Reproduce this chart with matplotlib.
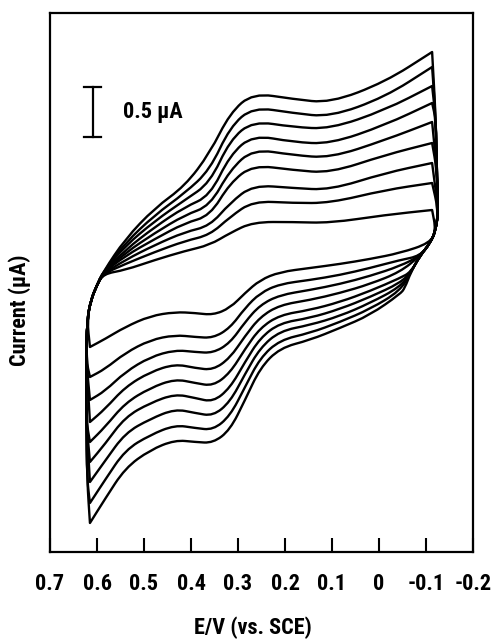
import matplotlib
matplotlib.use("Agg")
import matplotlib.pyplot as plt
import numpy as np
from matplotlib.path import Path
from matplotlib.patches import PathPatch
from matplotlib import font_manager

# ---------------- data (E in V vs SCE, current in uA) ----------------
tick_values = [0.7, 0.6, 0.5, 0.4, 0.3, 0.2, 0.1, 0.0, -0.1, -0.2]
tick_labels = ["0.7", "0.6", "0.5", "0.4", "0.3", "0.2", "0.1", "0", "-0.1", "-0.2"]

# forward (upper) branch, scanned from +0.6 V to -0.11 V
top_E = [0.587, 0.540, 0.477, 0.413, 0.360, 0.317, 0.268, 0.183, 0.104, -0.013, -0.113]
top_current = [
    [0.08, 0.12, 0.22, 0.31, 0.37, 0.49, 0.60, 0.60, 0.59, 0.67, 0.72],
    [0.08, 0.18, 0.30, 0.41, 0.47, 0.65, 0.81, 0.79, 0.79, 0.92, 0.99],
    [0.08, 0.22, 0.37, 0.50, 0.56, 0.79, 0.97, 0.94, 0.92, 1.09, 1.19],
    [0.09, 0.26, 0.43, 0.59, 0.66, 0.99, 1.17, 1.12, 1.09, 1.27, 1.39],
    [0.09, 0.29, 0.49, 0.67, 0.76, 1.12, 1.33, 1.27, 1.24, 1.42, 1.60],
    [0.09, 0.32, 0.55, 0.75, 0.86, 1.27, 1.47, 1.40, 1.38, 1.57, 1.79],
    [0.10, 0.36, 0.61, 0.82, 0.99, 1.42, 1.61, 1.55, 1.53, 1.72, 1.96],
    [0.10, 0.39, 0.67, 0.89, 1.12, 1.55, 1.75, 1.69, 1.65, 1.85, 2.15],
    [0.10, 0.43, 0.74, 0.96, 1.29, 1.69, 1.89, 1.83, 1.79, 2.00, 2.30],
]

# reverse (lower) branch, scanned from -0.05 V back to +0.61 V
bottom_E = [-0.045, 0.019, 0.083, 0.147, 0.211, 0.253, 0.285, 0.317, 0.353,
            0.391, 0.434, 0.487, 0.540, 0.583, 0.615]
bottom_current = [
    [0.29, 0.23, 0.18, 0.14, 0.10, 0.02, -0.11, -0.26, -0.33, -0.31, -0.30, -0.34, -0.45, -0.57, -0.65],
    [0.22, 0.14, 0.07, 0.02, -0.02, -0.11, -0.26, -0.46, -0.56, -0.55, -0.53, -0.58, -0.71, -0.87, -0.95],
    [0.16, 0.06, -0.02, -0.08, -0.13, -0.23, -0.40, -0.61, -0.71, -0.70, -0.68, -0.75, -0.90, -1.09, -1.18],
    [0.10, -0.02, -0.11, -0.18, -0.23, -0.35, -0.54, -0.76, -0.88, -0.86, -0.82, -0.90, -1.05, -1.27, -1.40],
    [0.04, -0.09, -0.20, -0.28, -0.33, -0.46, -0.67, -0.91, -1.04, -1.01, -0.97, -1.06, -1.21, -1.45, -1.60],
    [-0.01, -0.15, -0.27, -0.36, -0.41, -0.56, -0.80, -1.06, -1.20, -1.16, -1.12, -1.21, -1.35, -1.62, -1.80],
    [-0.05, -0.21, -0.34, -0.43, -0.49, -0.66, -0.92, -1.20, -1.34, -1.31, -1.27, -1.37, -1.51, -1.79, -2.00],
    [-0.09, -0.27, -0.40, -0.51, -0.58, -0.76, -1.05, -1.34, -1.48, -1.46, -1.43, -1.53, -1.68, -1.98, -2.21],
    [-0.12, -0.33, -0.46, -0.58, -0.66, -0.86, -1.18, -1.48, -1.61, -1.60, -1.58, -1.68, -1.86, -2.17, -2.41],
]

# switching segments (negative end and positive end)
right_edge_E = [-0.121, -0.123, -0.126, -0.121, -0.109, -0.087, -0.068, -0.055]
right_edge_I = [1.62, 1.12, 0.72, 0.52, 0.39, 0.26, 0.10, -0.06]
left_edge_E = [0.621, 0.623, 0.623, 0.621, 0.613, 0.600]
left_edge_I = [-1.98, -1.38, -0.78, -0.38, -0.18, -0.03]

scale_bar_E = 0.609
scale_bar_I = [1.45, 1.95]
scale_bar_text = "0.5 \u03bcA"

# ---------------- fonts ----------------
def pick_family():
    names = {f.name for f in font_manager.fontManager.ttflist}
    for key in ["Roboto Condensed", "Liberation Sans Narrow", "Arial Narrow",
                "DejaVu Sans Condensed", "Liberation Sans"]:
        if key in names:
            return [key, "DejaVu Sans"]
    return ["DejaVu Sans"]

FAM = pick_family()
plt.rcParams["font.family"] = FAM

# ---------------- figure ----------------
fig = plt.figure(figsize=(4.93, 6.4), dpi=100)
ax = fig.add_axes([50 / 493, 88 / 640, 423 / 493, 539 / 640])
ax.set_xlim(0.7, -0.2)
ax.set_ylim(-2.70, 2.69)


def smooth_closed_path(pts, corners):
    """Quadratic-bezier smoothing through midpoints; corner points are doubled."""
    seq = []
    for k, p in enumerate(pts):
        seq.append(p)
        if k in corners:
            seq.append(p)
    seq = np.array(seq)
    n = len(seq)
    mids = (seq + np.roll(seq, -1, axis=0)) / 2.0
    verts = [mids[-1]]
    codes = [Path.MOVETO]
    for k in range(n):
        verts.append(seq[k])
        verts.append(mids[k])
        codes += [Path.CURVE3, Path.CURVE3]
    return Path(np.array(verts), codes)


for top_I, bot_I in zip(top_current, bottom_current):
    pts = []
    corners = set()
    for e, i in zip(top_E, top_I):
        pts.append((e, i))
    corners.add(len(pts) - 1)
    for e, i in zip(right_edge_E, right_edge_I):
        if top_I[-1] - 0.1 > i > bot_I[0] + 0.03:
            pts.append((e, i))
    for e, i in zip(bottom_E, bot_I):
        pts.append((e, i))
    corners.add(len(pts) - 1)
    for e, i in zip(left_edge_E, left_edge_I):
        if i > bot_I[-1] + 0.1:
            pts.append((e, i))
    path = smooth_closed_path(pts, corners)
    ax.add_patch(PathPatch(path, facecolor="none", edgecolor="black",
                           lw=1.7, joinstyle="round", capstyle="round"))

# scale bar
ax.plot([scale_bar_E, scale_bar_E], scale_bar_I, color="black", lw=1.6)
for yv in scale_bar_I:
    ax.plot([scale_bar_E + 0.018, scale_bar_E - 0.018], [yv, yv], color="black", lw=1.6)
ax.text(0.545, np.mean(scale_bar_I), scale_bar_text, ha="left", va="center",
        fontsize=16, fontweight="bold", family=FAM)

# axes styling
for s in ax.spines.values():
    s.set_linewidth(1.6)
ax.set_xticks(tick_values)
ax.set_xticklabels(tick_labels, fontweight="bold", fontsize=16)
ax.tick_params(axis="x", direction="in", length=10, width=1.5, pad=15)
ax.set_yticks([])

ax.set_xlabel("E/V (vs. SCE)", fontsize=16, fontweight="bold")
ax.xaxis.set_label_coords(0.48, (640 - 628 - 88) / 539)
ax.xaxis.label.set_va("center")
ax.set_ylabel("Current (\u03bcA)", fontsize=16, fontweight="bold")
ax.yaxis.set_label_coords(-30 / 423, (552 - 310) / 539)
ax.yaxis.label.set_va("center")

fig.savefig("out.png", dpi=100)
